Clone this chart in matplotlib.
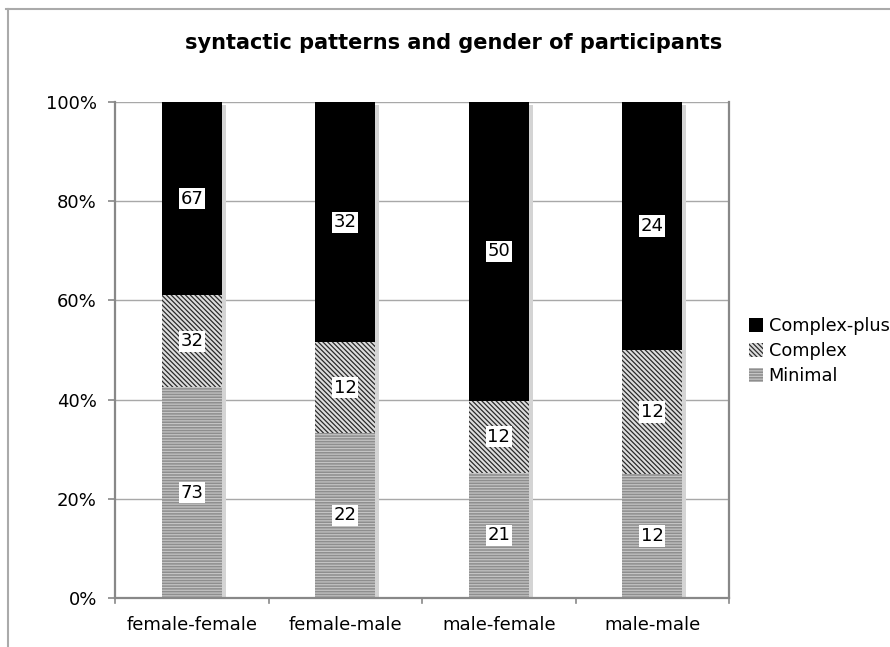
import matplotlib
matplotlib.use("Agg")
import matplotlib.pyplot as plt
from matplotlib.patches import Patch
from matplotlib.lines import Line2D
import numpy as np

plt.rcParams['hatch.linewidth'] = 0.9

categories = ["female-female", "female-male", "male-female", "male-male"]
minimal = [73, 22, 21, 12]
complex_ = [32, 12, 12, 12]
complex_plus = [67, 32, 50, 24]
series_names = ["Minimal", "Complex", "Complex-plus"]
y_ticks = [0, 20, 40, 60, 80, 100]
y_tick_labels = ["0%", "20%", "40%", "60%", "80%", "100%"]

W, H = 890, 647
fig = plt.figure(figsize=(W / 100, H / 100), dpi=100)
ax = fig.add_axes([115 / W, 1 - 598 / H, (729 - 115) / W, (598 - 102) / H])

counts = np.array([minimal, complex_, complex_plus], dtype=float)
pct = counts / counts.sum(axis=0) * 100
x = np.arange(len(categories))
bw = 0.39

styles = [
    dict(facecolor="#8e8e8e", hatch="------", edgecolor="#c4c4c4"),
    dict(facecolor="#dddddd", hatch="\\\\\\\\\\\\\\", edgecolor="#2a2a2a"),
    dict(facecolor="black", hatch=None, edgecolor="black"),
]

# drop shadow behind each column
px_x = 4 / 153.5
ax.bar(x + px_x, 100 - 0.6, width=bw, color="#d4d4d4", linewidth=0, zorder=1.5)

bottom = np.zeros(len(categories))
for i, st in enumerate(styles):
    ax.bar(x, pct[i], width=bw, bottom=bottom, facecolor=st["facecolor"],
           hatch=st["hatch"], edgecolor=st["edgecolor"], linewidth=0, zorder=2)
    for j in range(len(categories)):
        ax.text(x[j], bottom[j] + pct[i][j] / 2, f"{int(counts[i][j])}",
                ha="center", va="center", fontsize=13, color="black", zorder=5,
                bbox=dict(facecolor="white", edgecolor="none", pad=1.2))
    bottom += pct[i]

ax.set_xlim(-0.5, len(categories) - 0.5)
ax.set_ylim(0, 100)
ax.set_yticks(y_ticks)
ax.set_yticklabels(y_tick_labels, fontsize=13)
ax.yaxis.grid(True, color="#a8a8a8", linewidth=1.0, zorder=0)
ax.set_axisbelow(True)
ax.set_xticks(x)
ax.set_xticklabels(categories, fontsize=13)
ax.tick_params(axis="x", length=0, pad=13)
ax.tick_params(axis="y", length=5, color="#888888", width=1.2, pad=8)
# category separator ticks on the x axis
for b in np.arange(-0.5, len(categories), 1.0):
    ax.plot([b, b], [0, -1.0], color="#888888", lw=1.2, clip_on=False, zorder=3)

for side in ["left", "bottom", "right"]:
    ax.spines[side].set_color("#888888")
    ax.spines[side].set_linewidth(1.6)
ax.spines["top"].set_visible(False)

fig.text(0.51, 1 - 43 / H, "syntactic patterns and gender of participants",
         ha="center", va="center", fontsize=15, fontweight="bold")

handles = [Patch(facecolor=styles[i]["facecolor"], hatch=styles[i]["hatch"],
                 edgecolor=styles[i]["edgecolor"], linewidth=0)
           for i in [2, 1, 0]]
labels = [series_names[i] for i in [2, 1, 0]]
fig.legend(handles, labels, loc="center left", bbox_to_anchor=(749 / W, 1 - 351 / H),
           frameon=False, fontsize=12.8, handlelength=0.8, handleheight=0.8,
           handletextpad=0.3, labelspacing=0.4, borderpad=0, borderaxespad=0)

# outer frame lines
fig.add_artist(Line2D([6 / W, 1], [1 - 9 / H, 1 - 9 / H], color="#aaaaaa", lw=1.5))
fig.add_artist(Line2D([8 / W, 8 / W], [0, 1 - 9 / H], color="#aaaaaa", lw=1.5))

fig.savefig("out.png", dpi=100)
